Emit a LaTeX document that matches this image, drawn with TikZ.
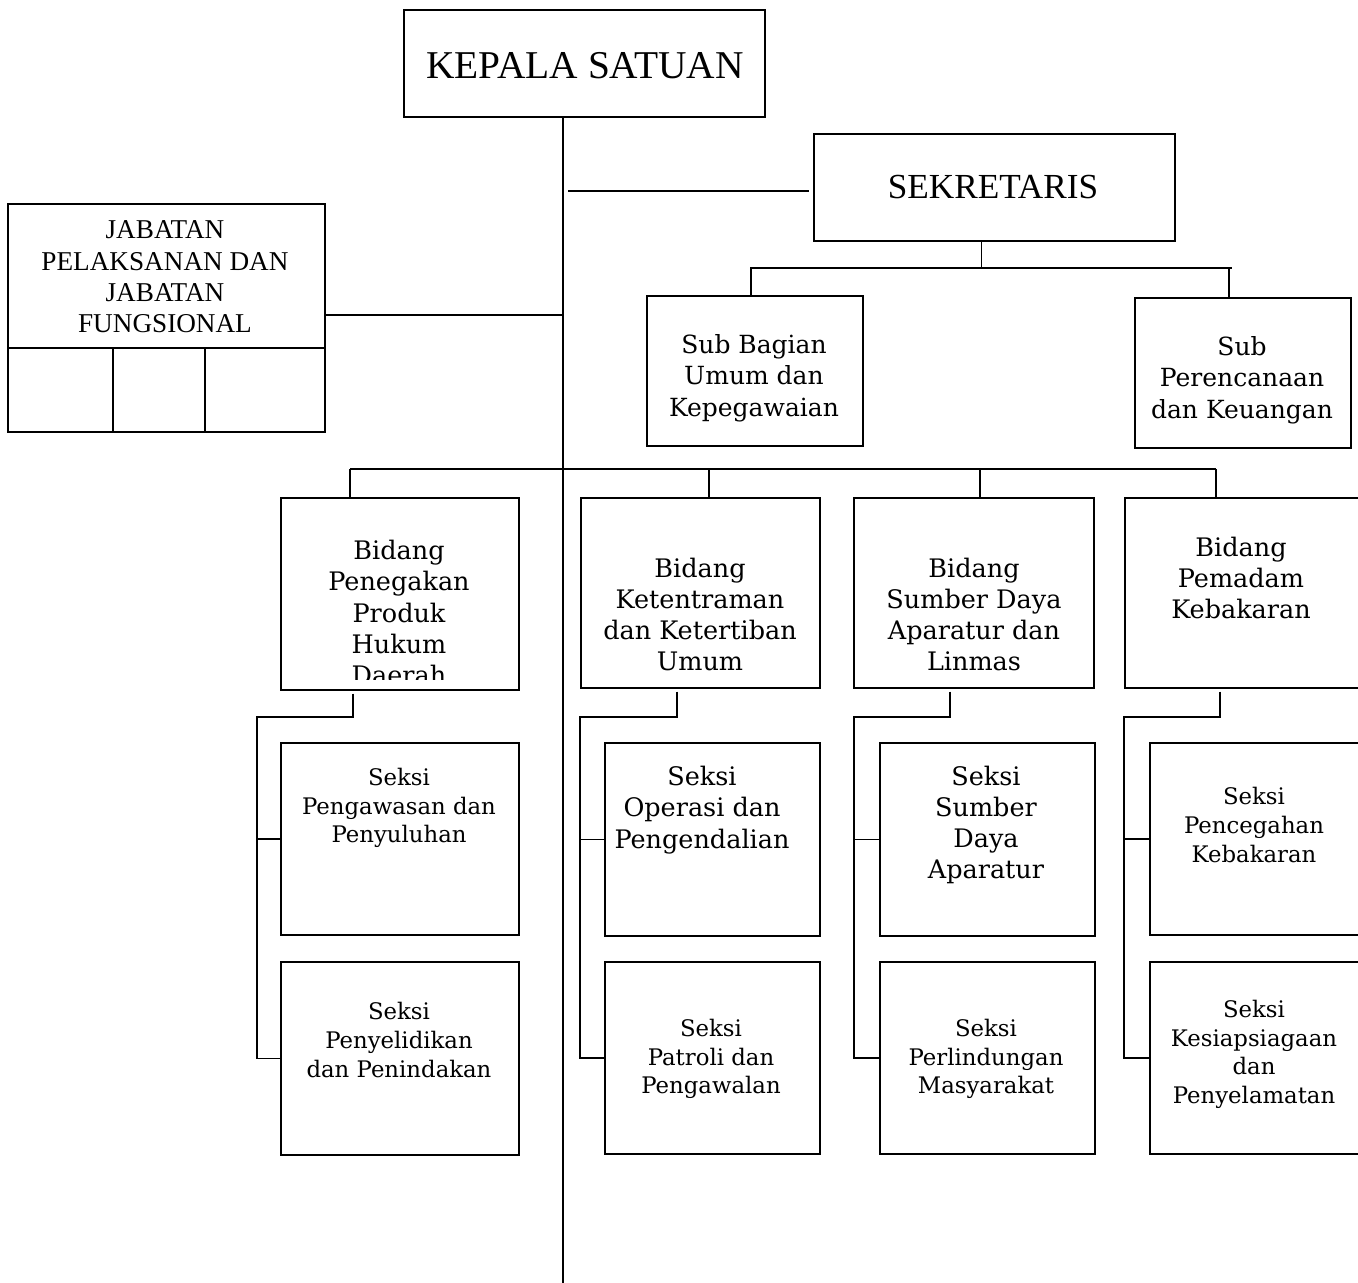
\documentclass[tikz,border=0pt]{standalone}
\usepackage{fontspec}
\setmainfont{DejaVu Serif}
\newfontfamily\capfont{Liberation Serif}
\usetikzlibrary{calc}
\begin{document}
\begin{tikzpicture}[x=1pt,y=-1pt,
  box/.style={draw, line width=1.6pt, rectangle, inner sep=0pt, anchor=north west},
  conn/.style={draw, line width=1.6pt},
  big/.style={align=center, inner sep=0pt, font=\fontsize{25.5}{31.3}\selectfont},
  small/.style={align=center, inner sep=0pt, font=\fontsize{22.8}{28.7}\selectfont},
  sub/.style={align=center, inner sep=0pt, font=\fontsize{25}{31.3}\selectfont},
  caps/.style={align=center, inner sep=0pt, font=\capfont\fontsize{27.2}{31.3}\selectfont}]
\useasboundingbox (0,0) rectangle (1358,1283);
\clip (0,0) rectangle (1358,1283);
% boxes
\node[box, minimum width=361, minimum height=107] (kepala) at (403,9) {};
\node[box, minimum width=361, minimum height=107] (sek) at (813,133) {};
\node[box, minimum width=317, minimum height=228] (jab) at (7,203) {};
\node[box, minimum width=216, minimum height=150] (sb1) at (646,295) {};
\node[box, minimum width=216, minimum height=150] (sb2) at (1134,297) {};
\node[box, minimum width=238, minimum height=192] (b1) at (280,497) {};
\node[box, minimum width=239, minimum height=190] (b2) at (580,497) {};
\node[box, minimum width=240, minimum height=190] (b3) at (853,497) {};
\node[box, minimum width=250, minimum height=190] (b4) at (1124,497) {};
\node[box, minimum width=238, minimum height=192] (s11) at (280,742) {};
\node[box, minimum width=238, minimum height=193] (s12) at (280,961) {};
\node[box, minimum width=215, minimum height=193] (s21) at (604,742) {};
\node[box, minimum width=215, minimum height=192] (s22) at (604,961) {};
\node[box, minimum width=215, minimum height=193] (s31) at (879,742) {};
\node[box, minimum width=215, minimum height=192] (s32) at (879,961) {};
\node[box, minimum width=225, minimum height=192] (s41) at (1149,742) {};
\node[box, minimum width=225, minimum height=192] (s42) at (1149,961) {};
% jabatan subdivisions
\coordinate (jd) at (7,348);
\coordinate (jv1) at (113,348);
\coordinate (jv2) at (205,348);
\draw[conn] (jd -| jab.west) -- (jd -| jab.east);
\draw[conn] (jv1) -- (jv1 |- jab.south);
\draw[conn] (jv2) -- (jv2 |- jab.south);
% texts
\node[font=\capfont\fontsize{39.4}{40}\selectfont, inner sep=0pt] (tkep) at (585,66) {KEPALA SATUAN};
\node[font=\capfont\fontsize{35.2}{36}\selectfont, inner sep=0pt] (tsek) at (993,187) {SEKRETARIS};
\node[caps] (tjab) at (165,277) {JABATAN\\PELAKSANAN DAN\\JABATAN\\FUNGSIONAL};
\node[sub] (tsb1) at (754,378) {Sub Bagian\\Umum dan\\Kepegawaian};
\node[sub] (tsb2) at (1242,380) {Sub\\Perencanaan\\dan Keuangan};
\begin{scope}
\clip (282,499) rectangle (516,679);
\node[big] (tb1) at (399,612.5) {Bidang\\Penegakan\\Produk\\Hukum\\Daerah};
\end{scope}
\node[big] (tb2) at (700,614.5) {Bidang\\Ketentraman\\dan Ketertiban\\Umum};
\node[big] (tb3) at (974,614.5) {Bidang\\Sumber Daya\\Aparatur dan\\Linmas};
\node[big] (tb4) at (1241,578) {Bidang\\Pemadam\\Kebakaran};
\node[small] (ts11) at (399,808) {Seksi\\Pengawasan dan\\Penyuluhan};
\node[small] (ts12) at (399,1040) {Seksi\\Penyelidikan\\dan Penindakan};
\node[big] (ts21) at (702,810) {Seksi\\Operasi dan\\Pengendalian};
\node[small] (ts22) at (711,1059) {Seksi\\Patroli dan\\Pengawalan};
\node[big] (ts31) at (986,825) {Seksi\\Sumber\\Daya\\Aparatur};
\node[small] (ts32) at (986,1059) {Seksi\\Perlindungan\\Masyarakat};
\node[small] (ts41) at (1254,825) {Seksi\\Pencegahan\\Kebakaran};
\node[small] (ts42) at (1254,1054.5) {Seksi\\Kesiapsiagaan\\dan\\Penyelamatan};
% main line
\coordinate (mbot) at (563,1283);
\draw[conn] (mbot |- kepala.south) -- (mbot);
% sekretaris connector
\coordinate (sekL) at (568,191);
\draw[conn] (sekL) -- ([xshift=-4pt]sekL -| sek.west);
% jabatan connector
\draw[conn] ([yshift=3pt]jab.east) -- ([yshift=3pt]jab.east -| mbot);
% sekretaris tree
\coordinate (sbusL) at (750,268);
\coordinate (sbusR) at (1232,268);
\draw[conn] (sbusL) -- (sbusR);
\draw[conn] ([xshift=-13pt]sek.south) -- ([xshift=-13pt]sek.south |- sbusL);
\draw[conn] ([xshift=-4pt]sb1.north) -- ([xshift=-4pt]sb1.north |- sbusL);
\draw[conn] ([xshift=-14pt]sb2.north) -- ([xshift=-14pt]sb2.north |- sbusL);
% bidang bus
\coordinate (bL) at (350,469);
\coordinate (bR) at (1216,469);
\coordinate (d2) at (709,469);
\coordinate (d3) at (980,469);
\draw[conn] (bL) -- (bR);
\draw[conn] (bL) -- (bL |- b1.north);
\draw[conn] (d2) -- (d2 |- b2.north);
\draw[conn] (d3) -- (d3 |- b3.north);
\draw[conn] (bR) -- (bR |- b4.north);
% seksi trees
\coordinate (e1) at (353,717); \coordinate (l1) at (257,717);
\coordinate (e2) at (677,717); \coordinate (l2) at (580,717);
\coordinate (e3) at (950,717); \coordinate (l3) at (854,717);
\coordinate (e4) at (1220,717); \coordinate (l4) at (1124,717);
\draw[conn] ([yshift=-3pt]e1 |- b1.south) -- (e1) -- (l1) -- (l1 |- s12.west) -- (s12.west);
\draw[conn] (l1 |- s11.west) -- (s11.west);
\draw[conn] ([yshift=-3pt]e2 |- b2.south) -- (e2) -- (l2) -- (l2 |- s22.west) -- (s22.west);
\draw[conn] (l2 |- s21.west) -- (s21.west);
\draw[conn] ([yshift=-3pt]e3 |- b3.south) -- (e3) -- (l3) -- (l3 |- s32.west) -- (s32.west);
\draw[conn] (l3 |- s31.west) -- (s31.west);
\draw[conn] ([yshift=-3pt]e4 |- b4.south) -- (e4) -- (l4) -- (l4 |- s42.west) -- (s42.west);
\draw[conn] (l4 |- s41.west) -- (s41.west);
\end{tikzpicture}
\end{document}
